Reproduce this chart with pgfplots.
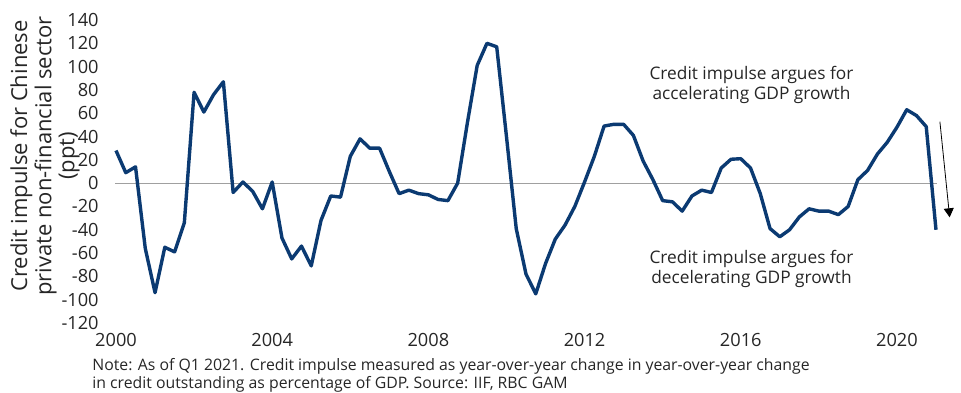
\documentclass[border=0pt]{standalone}
\usepackage{fontspec}
\setmainfont{Open Sans}
\usepackage{pgfplots}
\usepackage{pgfplotstable}
\pgfplotsset{compat=1.18}
\usetikzlibrary{arrows.meta}

\definecolor{navy}{HTML}{0B3A72}
\definecolor{txt}{HTML}{262626}
\definecolor{zeroline}{HTML}{A0A0A0}

% Quarterly credit impulse, q = quarters since 2000 Q1 (last point: 2021 Q1)
\pgfplotstableread{
q v
0 28
1 9
2 14
3 -56
4 -94
5 -55
6 -59
7 -34
8 78
9 61
10 76
11 87
12 -8
13 1
14 -7
15 -22
16 1
17 -47
18 -65
19 -54
20 -71
21 -32
22 -11
23 -12
24 23
25 38
26 30
27 30
28 10
29 -9
30 -6
31 -9
32 -10
33 -14
34 -15
35 0
36 52
37 101
38 120
39 117
40 40
41 -39
42 -78
43 -95
44 -69
45 -48
46 -36
47 -20
48 1
49 23
50 49
51 50.5
52 50.5
53 41
54 19
55 3
56 -15
57 -16
58 -24
59 -11
60 -6
61 -8
62 13
63 20.5
64 21
65 13
66 -9
67 -39
68 -46
69 -40
70 -29
71 -22
72 -24
73 -24
74 -27
75 -20
76 3
77 11
78 25
79 35
80 48
81 63
82 58
83 48.5
84 -40
}\impulse

\begin{document}
\begin{tikzpicture}
\useasboundingbox (-58pt,-34.5pt) rectangle (422.5pt,161.5pt);
\begin{axis}[
  at={(0,0)}, anchor=south west,
  scale only axis, width=410pt, height=151.5pt,
  xmin=0, xmax=84, ymin=-120, ymax=140,
  xtick={0,16,32,48,64,80},
  xticklabels={2000,2004,2008,2012,2016,2020},
  ytick={-120,-100,...,140},
  yticklabels={-120,-100,-80,-60,-40,-20,0,20,40,60,80,100,120,140},
  axis line style={draw=none},
  major tick length=0pt,
  tick style={draw=none},
  ticklabel style={font=\fontsize{9.1}{10}\selectfont, text=txt},
  yticklabel style={anchor=east, inner sep=0pt, xshift=-8.5pt},
  xticklabel style={anchor=north, inner sep=0pt, yshift=-5pt},
  clip=false,
]
\draw[zeroline, line width=0.5pt] (axis cs:-0.1,0) -- (axis cs:84.1,0);
\addplot[navy, line width=1.7pt, line join=round, mark=none] table[x=q,y=v]{\impulse};
\draw[black, line width=0.4pt, -{Triangle[length=4.5pt,width=5pt]}]
  (axis cs:84.4,52.8) -- (axis cs:85.4,-29.3);
\node[align=center, font=\fontsize{8.65}{8.6}\selectfont, text=txt]
  at (axis cs:65.1,84.3) {Credit impulse argues for\\accelerating GDP growth};
\node[align=center, font=\fontsize{8.65}{8.6}\selectfont, text=txt]
  at (axis cs:65.1,-73.7) {Credit impulse argues for\\decelerating GDP growth};
\end{axis}
\node[rotate=90, align=center, inner sep=0pt, font=\fontsize{11}{9.5}\selectfont, text=txt]
  at (-35.5pt,83.5pt) {Credit impulse for Chinese\\private non-financial sector\\(ppt)};
\node[anchor=north west, align=left, inner sep=0pt, font=\fontsize{7.9}{7}\selectfont, text=txt]
  at (-12pt,-17.5pt) {Note: As of Q1 2021. Credit impulse measured as year-over-year change in year-over-year change\\in credit outstanding as percentage of GDP. Source: IIF, RBC GAM};
\end{tikzpicture}
\end{document}
